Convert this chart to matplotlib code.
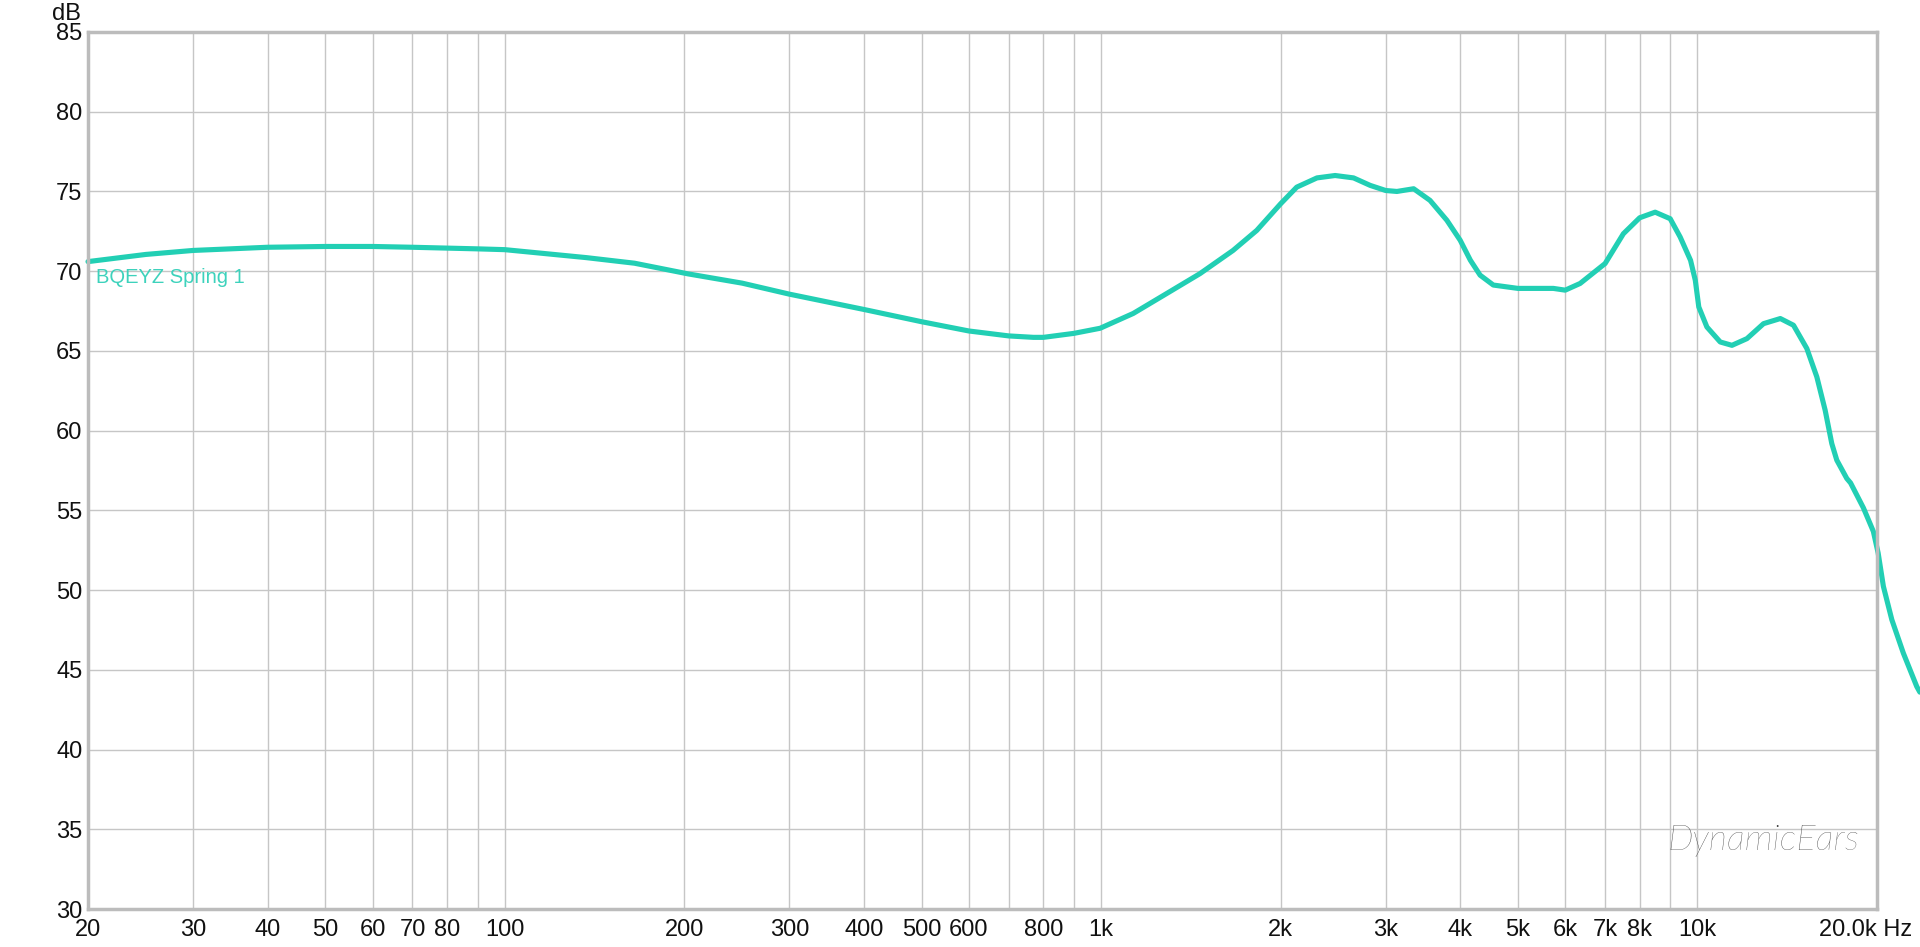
import numpy as np
import matplotlib
matplotlib.use("Agg")
import matplotlib.pyplot as plt
import matplotlib.transforms as mtransforms
from matplotlib.ticker import FixedLocator, NullLocator

plt.rcParams['font.family'] = ['Liberation Sans', 'DejaVu Sans']

# frequency response (Hz, dB)
freq = [20, 25, 30, 40, 50, 60, 70, 90, 100, 137, 165, 203, 250, 300, 400, 500,
        600, 700, 770, 800, 900, 996, 1132, 1288, 1465, 1664, 1824, 2000, 2128,
        2301, 2468, 2650, 2826, 3000, 3133, 3342, 3560, 3800, 4000, 4160, 4320,
        4546, 5000, 5733, 6000, 6356, 7000, 7512, 8000, 8492, 9000, 9354, 9736,
        9916, 10050, 10370, 10918, 11424, 12104, 12906, 13770, 14488, 15254,
        15854, 16372, 16796, 17124, 17798, 18060, 18980, 19720, 20090, 20500,
        21180, 22140, 23320, 23600]
spl = [70.6, 71.05, 71.3, 71.5, 71.55, 71.55, 71.5, 71.4, 71.35, 70.85, 70.5,
       69.83, 69.25, 68.56, 67.6, 66.83, 66.25, 65.94, 65.85, 65.85, 66.1, 66.42,
       67.35, 68.6, 69.85, 71.3, 72.56, 74.23, 75.27, 75.85, 76.0, 75.85, 75.38,
       75.06, 75.0, 75.17, 74.44, 73.19, 71.94, 70.69, 69.75, 69.13, 68.92, 68.92,
       68.81, 69.23, 70.48, 72.35, 73.35, 73.7, 73.29, 72.14, 70.68, 69.43, 67.76,
       66.5, 65.56, 65.35, 65.77, 66.71, 67.03, 66.61, 65.15, 63.37, 61.28, 59.19,
       58.15, 57.0, 56.72, 55.15, 53.68, 52.32, 50.23, 48.14, 46.05, 43.95, 43.6]

grid_x = [20, 30, 40, 50, 60, 70, 80, 90, 100, 200, 300, 400, 500, 600, 700, 800,
          900, 1000, 2000, 3000, 4000, 5000, 6000, 7000, 8000, 9000, 10000, 20000]
tick_x = [20, 30, 40, 50, 60, 70, 80, 100, 200, 300, 400, 500, 600, 800, 1000,
          2000, 3000, 4000, 5000, 6000, 7000, 8000, 10000, 20000]
tick_x_labels = ['20', '30', '40', '50', '60', '70', '80', '100', '200', '300', '400',
                 '500', '600', '800', '1k', '2k', '3k', '4k', '5k', '6k', '7k', '8k',
                 '10k', '20.0k Hz']
tick_y = list(range(30, 90, 5))

teal = '#22cfb4'

fig = plt.figure(figsize=(19.2, 9.47), dpi=100)
ax = fig.add_axes([88 / 1920, 1 - 909 / 947, (1877 - 88) / 1920, (909 - 32) / 947])
ax.set_xscale('log')
ax.set_xlim(20, 20000)
ax.set_ylim(30, 85)

# grid
for gx in grid_x:
    ax.axvline(gx, color='#c6c6c6', lw=1.0, zorder=1)
for gy in tick_y:
    ax.axhline(gy, color='#c6c6c6', lw=1.0, zorder=1)

ax.plot(freq, spl, color=teal, lw=3.7, solid_capstyle='round',
        solid_joinstyle='round', zorder=3, clip_on=False)

ax.xaxis.set_major_locator(FixedLocator(tick_x))
ax.xaxis.set_minor_locator(NullLocator())
ax.set_xticklabels(tick_x_labels)
ax.set_yticks(tick_y)
ax.tick_params(axis='both', length=0, labelsize=17, colors='#111111')
ax.tick_params(axis='x', pad=7)
ax.tick_params(axis='y', pad=4)

# last label ("20.0k Hz") sits right-aligned near the image edge
last = ax.get_xticklabels()[-1]
last.set_ha('right')
last.set_transform(last.get_transform() +
                   mtransforms.ScaledTranslation(0.35, 0, fig.dpi_scale_trans))

for s in ax.spines.values():
    s.set_color('#bcbcbc')
    s.set_linewidth(2.5)
    s.set_zorder(4)

fig.text(81 / 1920, 1 - 14 / 947, 'dB', ha='right', va='center', fontsize=17, color='#111111')
ax.text(20.6, 69.6, 'BQEYZ Spring 1', color='#3dd2bc', fontsize=14.5,
        ha='left', va='center')
fig.text(1763 / 1920, 1 - 840 / 947, 'DynamicEars', family='Lato', style='italic',
         fontweight='light', fontsize=26, color='#3a3a3a', ha='center', va='center')

fig.savefig('out.png', dpi=100)
